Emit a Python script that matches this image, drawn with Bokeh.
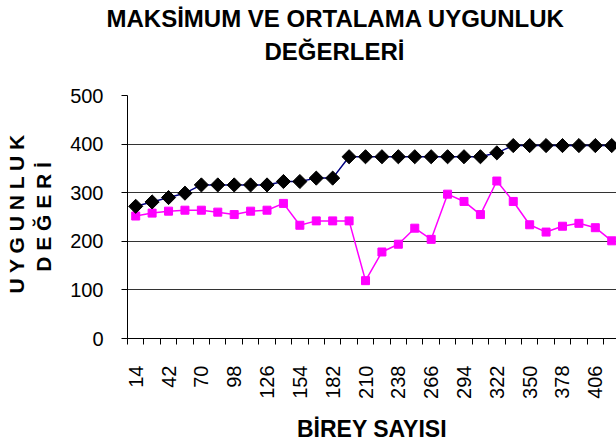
import math
from bokeh.plotting import figure
from bokeh.models import FixedTicker, Range1d, Title, ColumnDataSource
from bokeh.embed import file_html
from bokeh.resources import INLINE

# ---- data ----
title_line1 = "MAKSİMUM VE ORTALAMA UYGUNLUK"
title_line2 = "DEĞERLERİ"
x_title = "BİREY SAYISI"
y_title1 = "UYGUNLUK"
y_title2 = "DEĞERİ"

population = [14, 28, 42, 56, 70, 84, 98, 112, 126, 140, 154, 168, 182, 196, 210,
              224, 238, 252, 266, 280, 294, 308, 322, 336, 350, 364, 378, 392, 406, 420]
max_fitness = [272, 281, 290, 299, 316, 316, 316, 316, 316, 323, 323, 330, 330, 374, 374,
               374, 374, 374, 374, 374, 374, 374, 382, 397, 397, 397, 397, 397, 397, 397]
avg_fitness = [252, 258, 262, 264, 264, 260, 255, 262, 264, 278, 233, 242, 242, 242, 119,
               178, 194, 227, 204, 297, 282, 255, 324, 282, 234, 219, 231, 237, 228, 201]
x_tick_labels = population[0::2]
y_ticks = [0, 100, 200, 300, 400, 500]

FONT = "Liberation Sans"
step = population[1] - population[0]

p = figure(width=616, height=446, output_backend="svg", toolbar_location=None,
           title=None,
           x_range=Range1d(population[0] - step / 2, population[-1] + 0.29 * step),
           y_range=Range1d(0, 500),
           min_border_left=123, min_border_top=95, min_border_right=0,
           min_border_bottom=108)
p.outline_line_color = None
p.background_fill_color = "white"
p.border_fill_color = "white"

src = ColumnDataSource(dict(x=population, mx=max_fitness, av=avg_fitness))
p.line("x", "av", source=src, color="#FF00FF", line_width=1.5)
p.scatter("x", "av", source=src, marker="square", size=8, color="#FF00FF")
p.line("x", "mx", source=src, color="#000080", line_width=1.5)
p.scatter("x", "mx", source=src, marker="square", angle=math.pi / 4, size=10,
          color="black")

# x axis
boundaries = [v - step / 2 for v in population] + [population[-1] + step / 2]
p.xaxis.ticker = FixedTicker(ticks=x_tick_labels, minor_ticks=boundaries)
p.xaxis.major_tick_out = 0
p.xaxis.major_tick_in = 0
p.xaxis.minor_tick_out = 6
p.xaxis.minor_tick_in = 0
p.xaxis.minor_tick_line_color = "black"
p.xaxis.axis_line_color = "black"
p.xaxis.major_label_orientation = math.pi / 2
p.xaxis.major_label_standoff = 21
p.xaxis.major_label_text_font = FONT
p.xaxis.major_label_text_font_size = "20px"
p.xaxis.major_label_text_color = "black"
p.xaxis.axis_label = x_title
p.xaxis.axis_label_text_font = FONT
p.xaxis.axis_label_text_font_size = "23px"
p.xaxis.axis_label_text_font_style = "bold"
p.xaxis.axis_label_text_color = "black"
p.xaxis.axis_label_standoff = 14
p.xgrid.visible = False

# y axis
p.yaxis.ticker = FixedTicker(ticks=y_ticks)
p.yaxis.major_tick_out = 6
p.yaxis.major_tick_in = 0
p.yaxis.minor_tick_out = 0
p.yaxis.minor_tick_in = 0
p.yaxis.axis_line_color = "black"
p.yaxis.major_tick_line_color = "black"
p.yaxis.major_label_standoff = 18
p.yaxis.major_label_text_font = FONT
p.yaxis.major_label_text_font_size = "20px"
p.yaxis.major_label_text_color = "black"
p.yaxis.axis_label = " ".join(y_title2)
p.yaxis.axis_label_text_font = FONT
p.yaxis.axis_label_text_font_size = "21px"
p.yaxis.axis_label_text_font_style = "bold"
p.yaxis.axis_label_text_color = "black"
p.yaxis.axis_label_standoff = 12
p.ygrid.ticker = FixedTicker(ticks=y_ticks)
p.ygrid.grid_line_color = "#333333"
p.ygrid.grid_line_width = 1

p.add_layout(Title(text=" ".join(y_title1), align="left", offset=45, text_font=FONT,
                   text_font_size="21px", text_font_style="bold",
                   text_color="black", standoff=4), "left")

# chart title: a blank spacer next to the frame, then the two title lines
title_style = dict(text_font=FONT, text_font_size="24px", text_font_style="bold",
                   text_color="black")
p.add_layout(Title(text=" ", align="left", offset=0, standoff=0, **title_style), "above")
p.add_layout(Title(text=title_line2, align="left", offset=137, standoff=4,
                   **title_style), "above")
p.add_layout(Title(text=title_line1, align="left", offset=-21, standoff=4,
                   **title_style), "above")

open("out.html", "w").write(file_html(p, INLINE))
